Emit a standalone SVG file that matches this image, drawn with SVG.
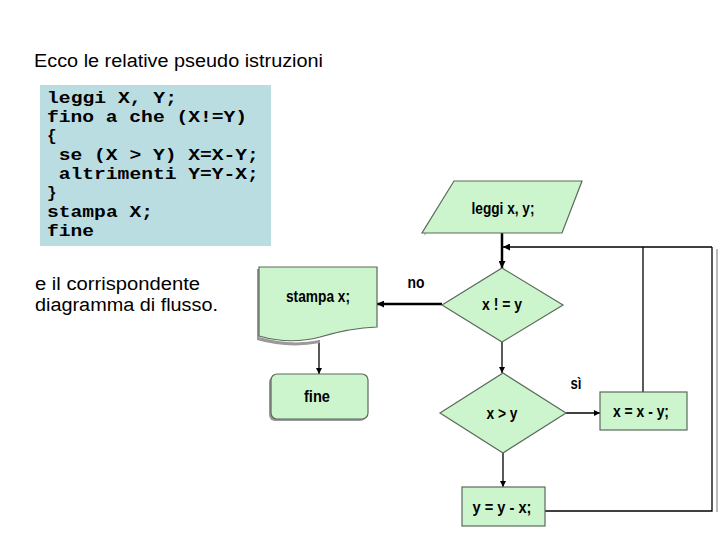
<svg xmlns="http://www.w3.org/2000/svg" width="720" height="540" viewBox="0 0 720 540">
<defs>
<style>
.t{font-family:"Liberation Sans",Arial,sans-serif;font-size:18px;fill:#000}
.code{font-family:"Liberation Mono","Courier New",monospace;font-weight:bold;font-size:16px;fill:#000}
.lab{font-family:"Liberation Sans Narrow","Liberation Sans",Arial,sans-serif;font-weight:bold;font-size:16.5px;fill:#000}
.shape{fill:#cdf5cd;stroke:#5a6a5a;stroke-width:1.2}
.shadow{fill:#9a9a9a}
.ln{stroke:#000;stroke-width:1.3;fill:none}
.thick{stroke:#000;stroke-width:2.5;fill:none}
</style>
<marker id="ah" viewBox="0 0 10 10" refX="10" refY="5" markerWidth="6" markerHeight="6" markerUnits="userSpaceOnUse" orient="auto"><path d="M0,0 L10,5 L0,10 Z" fill="#000"/></marker>
<marker id="ah2" viewBox="0 0 10 10" refX="10" refY="5" markerWidth="7" markerHeight="7" markerUnits="userSpaceOnUse" orient="auto"><path d="M0,0 L10,5 L0,10 Z" fill="#000"/></marker>
</defs>
<rect width="720" height="540" fill="#fff"/>
<g id="intro">
<text class="t" x="34" y="67" textLength="289" lengthAdjust="spacingAndGlyphs">Ecco le relative pseudo istruzioni</text>
</g>
<g id="code">
<rect x="40" y="85" width="231" height="161" fill="#badde2"/>
<text class="code" x="47" y="103" textLength="130" lengthAdjust="spacingAndGlyphs">leggi X, Y;</text>
<text class="code" x="47" y="122" textLength="200" lengthAdjust="spacingAndGlyphs">fino a che (X!=Y)</text>
<text class="code" x="47" y="141">{</text>
<text class="code" x="58.8" y="160" textLength="200" lengthAdjust="spacingAndGlyphs">se (X &gt; Y) X=X-Y;</text>
<text class="code" x="58.8" y="179" textLength="200" lengthAdjust="spacingAndGlyphs">altrimenti Y=Y-X;</text>
<text class="code" x="47" y="198">}</text>
<text class="code" x="47" y="217" textLength="106" lengthAdjust="spacingAndGlyphs">stampa X;</text>
<text class="code" x="47" y="236" textLength="47" lengthAdjust="spacingAndGlyphs">fine</text>
</g>
<g id="caption">
<text class="t" x="35" y="290" textLength="165" lengthAdjust="spacingAndGlyphs">e il corrispondente</text>
<text class="t" x="35" y="311" textLength="183" lengthAdjust="spacingAndGlyphs">diagramma di flusso.</text>
</g>
<g id="connectors">
<line class="thick" x1="502" y1="233" x2="502" y2="268" marker-end="url(#ah2)"/>
<polyline class="ln" points="712,247 503,247" marker-end="url(#ah2)"/>
<line class="ln" x1="643" y1="247" x2="643" y2="392"/>
<polyline class="ln" points="545,511 712,511 712,247"/>
<line x1="717" y1="249" x2="717" y2="512" stroke="#bbbbbb" stroke-width="2"/>
<line class="thick" x1="442" y1="304" x2="377" y2="304" marker-end="url(#ah2)"/>
<line class="ln" x1="319" y1="340" x2="319" y2="374" marker-end="url(#ah)"/>
<line class="ln" x1="502" y1="342" x2="502" y2="373" marker-end="url(#ah)"/>
<line class="ln" x1="566" y1="413" x2="600" y2="413" marker-end="url(#ah)"/>
<line class="ln" x1="503" y1="453" x2="503" y2="487" marker-end="url(#ah)"/>
<text class="lab" x="416" y="288" text-anchor="middle" textLength="17" lengthAdjust="spacingAndGlyphs">no</text>
<text class="lab" x="576" y="389" text-anchor="middle" textLength="11" lengthAdjust="spacingAndGlyphs">sì</text>
</g>
<g id="leggi">
<polygon class="shadow" points="424,235 455,183 456,183 425,235"/>
<polygon class="shape" points="454,181 582,181 562,233 422,233"/>
<text class="lab" x="503" y="214" text-anchor="middle" textLength="63" lengthAdjust="spacingAndGlyphs">leggi x, y;</text>
</g>
<g id="cond1">
<polygon class="shape" points="502,268 563,305 502,342 442,305"/>
<text class="lab" x="502" y="310" text-anchor="middle" textLength="40" lengthAdjust="spacingAndGlyphs">x ! = y</text>
</g>
<g id="stampa">
<path class="shadow" d="M257,269 L259,269 L259,337 Q290,346 320,340 L320,343 Q288,349 257,340 Z"/>
<path class="shape" d="M259,267 L377,267 L377,327 Q350,328 320,337 Q290,345 259,336 Z"/>
<text class="lab" x="318" y="302" text-anchor="middle" textLength="64" lengthAdjust="spacingAndGlyphs">stampa x;</text>
</g>
<g id="fine">
<rect x="269" y="376" width="97" height="45" rx="6" fill="#999"/>
<rect class="shape" x="271" y="374" width="97" height="45" rx="6"/>
<text class="lab" x="317" y="402" text-anchor="middle" textLength="26" lengthAdjust="spacingAndGlyphs">fine</text>
</g>
<g id="cond2">
<polygon class="shape" points="503,373 566,413 503,453 440,413"/>
<text class="lab" x="502" y="419" text-anchor="middle" textLength="31" lengthAdjust="spacingAndGlyphs">x &gt; y</text>
</g>
<g id="xminus">
<rect class="shape" x="600" y="392" width="87" height="38"/>
<text class="lab" x="641" y="417" text-anchor="middle" textLength="56" lengthAdjust="spacingAndGlyphs">x = x - y;</text>
</g>
<g id="yminus">
<rect class="shape" x="462" y="487" width="83" height="39"/>
<text class="lab" x="502" y="513" text-anchor="middle" textLength="59" lengthAdjust="spacingAndGlyphs">y = y - x;</text>
</g>
</svg>
